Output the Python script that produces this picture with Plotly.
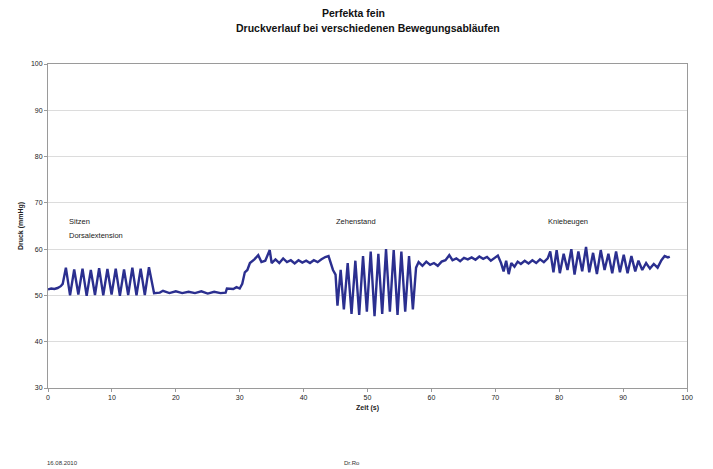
import plotly.graph_objects as go

# time (s) and pressure (mmHg)
t_vals = [
    0, 0.5, 1.0, 1.5, 2.0, 2.3,
    2.8, 3.45, 4.1, 4.75, 5.4, 6.05, 6.7, 7.35, 8.0, 8.65, 9.3, 9.95, 10.6, 11.25,
    11.9, 12.55, 13.2, 13.85, 14.5, 15.15, 15.8, 16.6,
    17.5, 18, 19, 20, 21, 22, 23, 24, 25, 26, 27, 27.8,
    28.0, 29.0, 29.5, 30.0, 30.4, 30.8, 31.2,
    31.6, 32.3, 32.9, 33.4, 34.0, 34.7, 35.0, 35.6, 36.2, 36.8, 37.4, 38.0, 38.6,
    39.2, 39.8, 40.4, 41.0, 41.6, 42.2, 42.8, 43.4, 43.9, 44.3,
    44.6, 45.0, 45.3, 45.8, 46.3, 46.9, 47.5, 48.1, 48.7, 49.3, 49.9, 50.5, 51.1,
    51.7, 52.3, 52.9, 53.5, 54.1, 54.7, 55.3, 55.9, 56.5, 57.1, 57.6,
    58.0, 58.6, 59.2, 59.8, 60.4, 61.0, 61.6, 62.2, 62.8, 63.3, 63.9, 64.5, 65.1,
    65.7, 66.3, 66.9, 67.5, 68.1, 68.7, 69.3, 69.9, 70.4, 70.9, 71.3, 71.7, 72.1,
    72.5, 73.0, 73.5, 74.0, 74.6, 75.2, 75.8, 76.4, 77.0, 77.6, 78.2,
    78.6, 79.1, 79.6, 80.1, 80.7, 81.3, 81.9, 82.4, 83.0, 83.6, 84.2, 84.7, 85.3,
    85.9, 86.5, 87.1, 87.7, 88.3, 88.9, 89.5, 90.1, 90.7, 91.3, 91.9, 92.4, 93.0,
    93.6, 94.2, 94.8, 95.4, 96.0, 96.5, 97.0, 97.3,
]
p_vals = [
    51.3, 51.5, 51.4, 51.6, 52.0, 52.5,
    56.0, 50.0, 55.6, 50.2, 55.8, 49.9, 55.5, 50.1, 55.9, 50.0, 55.7, 50.2, 55.8, 49.9,
    55.6, 50.1, 56.0, 50.0, 55.8, 50.1, 56.1, 50.5,
    50.6, 51.0, 50.5, 50.9, 50.5, 50.8, 50.5, 50.9, 50.4, 50.8, 50.5, 50.6,
    51.5, 51.4, 51.8, 51.5, 52.5, 55.0, 55.5,
    57.0, 57.8, 58.7, 57.2, 57.5, 59.8, 57.0, 57.8, 57.0, 58.0, 57.2, 57.6, 56.9,
    57.6, 57.1, 57.5, 57.0, 57.6, 57.2, 57.8, 58.3, 58.5, 57.0,
    55.5, 54.5, 47.8, 55.5, 47.0, 57.0, 46.0, 57.5, 45.8, 58.5, 46.5, 59.5, 45.5,
    59.0, 46.0, 60.0, 46.5, 59.8, 45.8, 59.5, 46.5, 58.5, 47.0, 56.0,
    57.2, 56.4, 57.3, 56.6, 57.0, 56.4, 57.3, 57.6, 58.7, 57.6, 58.0, 57.4, 58.1,
    57.8, 58.2, 57.7, 58.4, 57.9, 58.3, 57.5, 58.2, 58.6, 57.0, 55.2, 57.5, 54.6,
    57.0, 56.2, 57.3, 56.8, 57.5, 56.9, 57.6, 57.0, 57.8, 57.2, 58.0,
    59.5, 55.0, 59.8, 54.8, 59.0, 55.5, 60.0, 54.5, 59.5, 55.2, 60.5, 55.0, 59.2,
    54.6, 59.8, 55.5, 59.0, 54.8, 59.5, 55.0, 58.8, 54.8, 58.5, 55.2, 57.5, 55.5,
    57.0, 55.8, 56.8, 56.0, 57.6, 58.5, 58.2, 58.4,
]

labels = ["Sitzen", "Dorsalextension", "Zehenstand", "Kniebeugen"]
label_x = [3.0, 3.0, 44.8, 78.0]
label_y = [65.9, 62.9, 65.9, 65.9]

x_ticks = [0, 10, 20, 30, 40, 50, 60, 70, 80, 90, 100]
y_ticks = [30, 40, 50, 60, 70, 80, 90, 100]

title_lines = ["Perfekta fein", "Druckverlauf bei verschiedenen Bewegungsabläufen"]
footer_texts = ["16.08.2010", "Dr.Ro"]

font = "Liberation Sans, Arial, sans-serif"

fig = go.Figure()
fig.add_trace(go.Scatter(x=t_vals, y=p_vals, mode="lines",
                         line=dict(color="#2b2f8f", width=2.4), showlegend=False))

for txt, lx, ly in zip(labels, label_x, label_y):
    fig.add_annotation(x=lx, y=ly, text=txt, showarrow=False, xanchor="left",
                       yanchor="middle", align="left",
                       font=dict(family=font, size=7.5, color="#222222"))

fig.update_layout(
    width=713, height=469,
    margin=dict(l=48, r=26, t=64, b=81),
    paper_bgcolor="white", plot_bgcolor="white",
    font=dict(family=font, size=7, color="#222222"),
)
fig.update_xaxes(range=[0, 100], tickvals=x_ticks, showgrid=False, zeroline=False,
                 showline=True, linecolor="#9a9a9a", mirror=True, ticks="outside",
                 ticklen=3, tickcolor="#9a9a9a", automargin=False,
                 title=dict(text="<b>Zeit (s)</b>", font=dict(size=7), standoff=4))
fig.update_yaxes(range=[30, 100], tickvals=y_ticks, showgrid=True, gridcolor="#dcdcdc",
                 zeroline=False, showline=True, linecolor="#9a9a9a", mirror=True,
                 ticks="outside", ticklen=3, tickcolor="#9a9a9a", automargin=False,
                 title=dict(text="<b>Druck (mmHg)</b>", font=dict(size=7), standoff=6))

# title lines (paper coords: plot spans x 48..687 px, y 64..388 px)
fig.add_annotation(xref="paper", yref="paper", x=0.478, y=1.158, text="<b>" + title_lines[0] + "</b>",
                   showarrow=False, xanchor="center", yanchor="middle",
                   font=dict(family=font, size=10.5, color="#111111"))
fig.add_annotation(xref="paper", yref="paper", x=0.501, y=1.111, text="<b>" + title_lines[1] + "</b>",
                   showarrow=False, xanchor="center", yanchor="middle",
                   font=dict(family=font, size=10.5, color="#111111"))

fig.add_annotation(xref="paper", yref="paper", x=-0.005, y=-0.23, text=footer_texts[0],
                   showarrow=False, xanchor="left", yanchor="middle",
                   font=dict(family=font, size=6, color="#333333"))
fig.add_annotation(xref="paper", yref="paper", x=0.46, y=-0.23, text=footer_texts[1],
                   showarrow=False, xanchor="left", yanchor="middle",
                   font=dict(family=font, size=6, color="#333333"))

fig.write_html("out.html", config={"displayModeBar": False},
               post_script="document.body.style.margin='0';")
